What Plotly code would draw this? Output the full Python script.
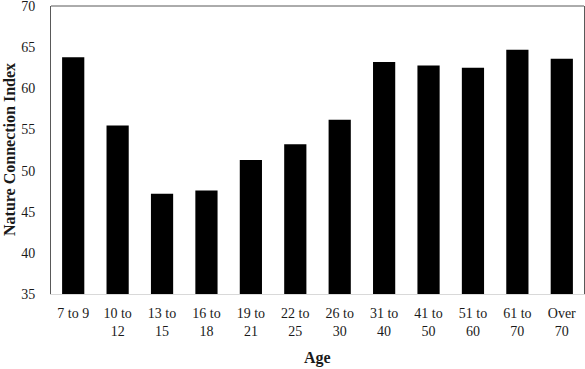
import plotly.graph_objects as go

categories = ["7 to 9", "10 to<br>12", "13 to<br>15", "16 to<br>18", "19 to<br>21", "22 to<br>25",
              "26 to<br>30", "31 to<br>40", "41 to<br>50", "51 to<br>60", "61 to<br>70", "Over<br>70"]
values = [63.8, 55.5, 47.2, 47.6, 51.3, 53.2, 56.2, 63.2, 62.8, 62.5, 64.7, 63.6]
y_ticks = [35, 40, 45, 50, 55, 60, 65, 70]

FONT = "Liberation Serif"

fig = go.Figure(go.Bar(x=categories, y=values, marker=dict(color="black", line=dict(width=0))))

fig.update_layout(
    width=585, height=369,
    margin=dict(l=51, r=1, t=6, b=75, autoexpand=False),
    plot_bgcolor="white", paper_bgcolor="white",
    bargap=0.5,
    showlegend=False,
    font=dict(family=FONT, size=14, color="#1a1a1a"),
)
fig.update_xaxes(
    showline=True, linecolor="#d9d9d9", linewidth=1,
    showgrid=False, ticks="", ticklabelstandoff=6, automargin=False,
    tickfont=dict(family=FONT, size=14, color="#1a1a1a"),
)
fig.update_yaxes(
    range=[35, 70.02], tickvals=y_ticks, showgrid=False, zeroline=False,
    showline=True, mirror=True, linecolor="#595959", linewidth=1,
    ticks="", ticklabelstandoff=12, automargin=False, ticklabeloverflow="allow",
    tickfont=dict(family=FONT, size=14, color="#1a1a1a"),
)
fig.add_shape(type="line", xref="paper", yref="paper", x0=0, x1=1, y0=1, y1=1,
              line=dict(color="#595959", width=1))
fig.add_annotation(text="<b>Nature Connection Index</b>", xref="paper", yref="paper",
                   x=-42/533, y=0.5, xanchor="center", yanchor="middle", textangle=-90,
                   showarrow=False, font=dict(family=FONT, size=16, color="#1a1a1a"))
fig.add_annotation(text="<b>Age</b>", xref="paper", yref="paper",
                   x=0.5, y=-(358-294)/288, xanchor="center", yanchor="middle",
                   showarrow=False, font=dict(family=FONT, size=16, color="#1a1a1a"))

fig.write_html("out.html", config={"displayModeBar": False},
               post_script="document.body.style.margin='0';document.body.style.overflow='hidden';")
